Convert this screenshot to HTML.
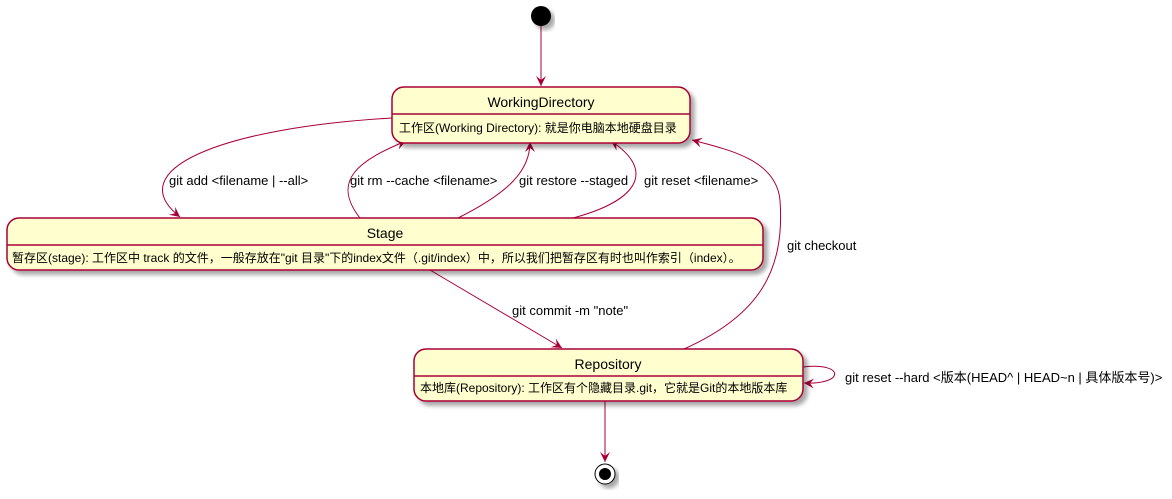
<!DOCTYPE html>
<html><head><meta charset="utf-8"><style>
body{margin:0;background:#fff;}
svg text{font-family:"Liberation Sans","Noto Sans CJK SC",sans-serif;}
</style></head><body>
<svg width="1172" height="494" viewBox="0 0 1172 494" xmlns="http://www.w3.org/2000/svg">
<defs>
<filter id="sh" x="-10%" y="-10%" width="130%" height="140%"><feGaussianBlur in="SourceAlpha" stdDeviation="2"/><feOffset dx="4" dy="4"/><feComponentTransfer><feFuncA type="linear" slope="0.35"/></feComponentTransfer><feMerge><feMergeNode/><feMergeNode in="SourceGraphic"/></feMerge></filter>
<marker id="a" markerWidth="12" markerHeight="10" refX="10" refY="5" orient="auto" markerUnits="userSpaceOnUse"><path d="M0,0 L10,5 L0,10 L4,5 Z" fill="#A80036"/></marker>
</defs>
<g fill="none" stroke="#A80036" stroke-width="1">
<path d="M541,26 L541,86" marker-end="url(#a)"/>
<path d="M392,118 C220,128 120,170 180,217" marker-end="url(#a)"/>
<path d="M360,218 C330,180 360,160 406,141" marker-end="url(#a)"/>
<path d="M458,218 C510,192 530,170 530,142" marker-end="url(#a)"/>
<path d="M573,218 C640,200 655,170 611,141" marker-end="url(#a)"/>
<path d="M684,349 C760,315 785,270 780,200 C776,160 730,150 692,140" marker-end="url(#a)"/>
<path d="M430,270 L562,348" marker-end="url(#a)"/>
<path d="M803,367 C845,362 845,385 804,383" marker-end="url(#a)"/>
<path d="M605,401 L605,462" marker-end="url(#a)"/>
</g>
<circle cx="541" cy="16" r="10" fill="#000" filter="url(#sh)"/>
<g filter="url(#sh)">
<circle cx="605" cy="474" r="10" fill="#fff" stroke="#000" stroke-width="1"/>
<circle cx="605" cy="474" r="6" fill="#000"/>
</g>
<g stroke="#A80036" stroke-width="1.5" fill="#FEFECE">
<rect x="392" y="87" width="298" height="56" rx="12" filter="url(#sh)"/>
<rect x="7" y="218" width="756" height="52" rx="12" filter="url(#sh)"/>
<rect x="414" y="349" width="389" height="52" rx="12" filter="url(#sh)"/>
</g>
<g stroke="#A80036" stroke-width="1.5">
<line x1="392" y1="114" x2="690" y2="114"/>
<line x1="7" y1="245" x2="763" y2="245"/>
<line x1="414" y1="376" x2="803" y2="376"/>
</g>
<g fill="#000" font-size="14" text-anchor="middle">
<text x="541" y="107">WorkingDirectory</text>
<text x="385" y="238">Stage</text>
<text x="608" y="369">Repository</text>
</g>
<g fill="#000" font-size="12">
<text x="399" y="132">工作区(Working Directory): 就是你电脑本地硬盘目录</text>
<text x="12" y="262">暂存区(stage): 工作区中 track 的文件，一般存放在"git 目录"下的index文件（.git/index）中，所以我们把暂存区有时也叫作索引（index）。</text>
<text x="420" y="392">本地库(Repository): 工作区有个隐藏目录.git，它就是Git的本地版本库</text>
</g>
<g fill="#000" font-size="13">
<text x="169" y="185">git add &lt;filename | --all&gt;</text>
<text x="350" y="185">git rm --cache &lt;filename&gt;</text>
<text x="519" y="185">git restore --staged</text>
<text x="644" y="185">git reset &lt;filename&gt;</text>
<text x="787" y="250">git checkout</text>
<text x="512" y="315">git commit -m "note"</text>
<text x="845" y="382">git reset --hard &lt;版本(HEAD^ | HEAD~n | 具体版本号)&gt;</text>
</g>
</svg>
</body></html>
